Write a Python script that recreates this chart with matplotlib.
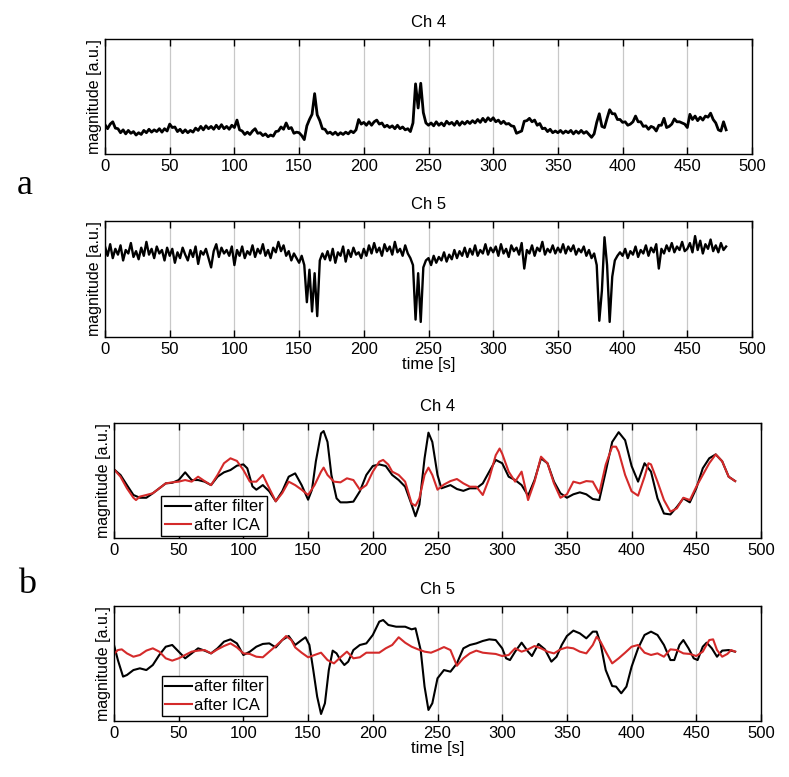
"""
Raw channels (a) and filtered vs ICA-cleaned channels (b), Ch 4 and Ch 5
"""

import numpy as np
import matplotlib
matplotlib.use('Agg')
import matplotlib.pyplot as plt

plt.rcParams['font.family'] = ['Liberation Sans', 'DejaVu Sans']

#%% DATA

# (a) raw recordings, one sample every 2 s (0..480 s)
t_raw = np.arange(0, 481, 2)

ch4_raw = [
    25.5, 22.0, 26.0, 28.0, 22.5, 22.0, 18.5, 21.0, 17.5, 20.5, 18.0, 19.5, 16.5, 18.5, 17.0, 20.5, 18.5, 21.5, 19.0, 21.0, 19.5, 22.0, 19.0, 22.0, 20.0,
    26.0, 23.0, 23.5, 19.5, 21.5, 18.5, 21.0, 18.5, 20.5, 19.0, 22.5, 20.5, 24.0, 21.0, 24.5, 22.0, 24.0, 21.5, 25.0, 22.0, 25.5, 22.0, 24.0, 21.5, 25.0,
    23.0, 29.5, 21.0, 20.0, 17.0, 19.0, 17.0, 20.0, 22.0, 18.0, 18.5, 16.0, 17.5, 15.0, 16.5, 15.5, 19.5, 20.0, 23.5, 21.5, 27.0, 22.0, 23.0, 18.0, 19.0,
    18.5, 16.0, 12.5, 24.5, 30.0, 34.5, 52.5, 34.0, 29.0, 22.0, 21.5, 18.0, 19.0, 17.0, 19.0, 16.5, 18.5, 17.0, 19.0, 17.5, 20.0, 18.5, 21.0, 30.0, 26.0,
    27.5, 25.0, 28.0, 25.0, 28.0, 29.5, 26.0, 27.0, 23.5, 25.0, 23.0, 24.5, 22.0, 25.0, 22.0, 23.5, 21.0, 22.0, 19.5, 27.0, 61.0, 40.0, 61.5, 36.0, 27.0,
    25.0, 27.0, 24.5, 28.0, 25.0, 27.0, 24.5, 28.5, 26.0, 27.5, 25.0, 28.5, 25.0, 28.0, 26.0, 28.5, 26.5, 29.0, 27.0, 30.0, 27.5, 31.0, 28.0, 31.5, 29.0,
    31.5, 28.0, 29.5, 26.5, 28.5, 26.0, 26.5, 24.5, 24.0, 18.0, 19.0, 20.0, 28.5, 29.0, 31.0, 28.0, 29.5, 25.0, 26.5, 22.0, 22.5, 19.5, 21.5, 18.5, 20.0,
    18.5, 20.5, 18.0, 20.0, 18.5, 20.5, 17.5, 20.0, 18.0, 20.5, 18.0, 19.5, 17.0, 14.5, 17.5, 27.5, 35.0, 24.0, 23.0, 31.0, 38.5, 35.0, 35.0, 30.0, 30.0,
    27.5, 28.0, 25.0, 26.0, 28.0, 33.0, 28.0, 28.0, 24.0, 24.5, 21.5, 24.0, 23.0, 20.0, 25.0, 25.0, 31.0, 23.0, 24.0, 26.0, 30.5, 28.0, 28.0, 27.0, 26.0,
    23.0, 34.5, 30.0, 33.0, 29.0, 32.0, 29.5, 33.0, 32.0, 35.5, 30.0, 27.0, 21.0, 20.0, 28.0, 21.0,
]

ch5_raw = [
    78, 70, 80, 68, 76, 71, 79, 66, 75, 72, 81, 69, 74, 67, 77, 70, 82, 71, 76, 68, 78, 72, 75, 66, 77,
    70, 76, 64, 73, 68, 77, 71, 66, 75, 69, 78, 63, 74, 71, 76, 68, 60, 74, 80, 69, 77, 72, 75, 70, 78,
    62, 75, 70, 78, 68, 74, 71, 79, 69, 76, 72, 80, 70, 75, 68, 77, 73, 82, 74, 79, 70, 74, 66, 72, 68,
    64, 70, 62, 30, 58, 22, 55, 18, 66, 72, 67, 74, 66, 76, 64, 73, 70, 78, 65, 75, 69, 77, 71, 73, 68,
    76, 70, 79, 72, 81, 73, 77, 70, 80, 74, 78, 71, 82, 73, 76, 70, 79, 72, 68, 62, 15, 55, 13, 60, 66,
    68, 62, 70, 64, 69, 66, 73, 65, 71, 67, 75, 68, 74, 70, 77, 69, 76, 71, 79, 70, 75, 72, 80, 71, 77,
    73, 78, 70, 80, 72, 76, 69, 79, 74, 77, 71, 81, 59, 75, 72, 79, 70, 77, 74, 82, 71, 76, 73, 79, 72,
    77, 73, 80, 72, 78, 74, 79, 71, 76, 73, 78, 70, 75, 68, 72, 62, 14, 40, 86, 62, 13, 52, 66, 70, 73,
    70, 76, 68, 74, 71, 78, 69, 75, 72, 79, 70, 77, 73, 80, 59, 76, 72, 79, 74, 81, 73, 78, 75, 82, 74,
    76, 81, 73, 87, 75, 83, 72, 80, 76, 84, 74, 79, 73, 81, 75, 78,
]

# (b) Ch 4, after filter / after ICA
ch4_filt_t = [0, 5, 10, 15, 20, 25, 30, 35, 40, 45, 50, 55, 60, 65, 70, 75, 80, 85, 90, 95, 100,
              103, 107, 110, 115, 120, 125, 130, 135, 140, 145, 150, 153, 156, 160, 162, 165, 168, 172, 175,
              180, 185, 190, 195, 200, 205, 210, 215, 220, 225, 230, 233, 236, 240, 243, 246, 250, 253,
              260, 265, 270, 275, 280, 285, 290, 295, 300, 305, 310, 315, 320, 325, 330, 335, 340, 345,
              350, 355, 360, 365, 370, 375, 380, 385, 390, 395, 400, 405, 410, 415, 420, 425, 430, 435,
              440, 445, 450, 455, 460, 465, 470, 475, 480]
ch4_filt = [59.7, 54.8, 46, 37.4, 35, 35, 38.9, 43.2, 47.5, 48, 50.4, 57.1, 50.4, 50.4, 49, 46, 53.3, 57.1, 59.1, 62.9, 64,
            60.6, 44.9, 42, 46, 40.6, 31.9, 40.6, 53.3, 56.2, 46, 33.3, 42, 66.7, 91, 93, 83.5, 54.8, 34.5, 31,
            31, 31.6, 40.6, 54.8, 62.6, 64, 62.6, 54.8, 50.4, 44.6, 29, 18.9, 29, 69.3, 91.6, 83.5, 54.8, 43.2,
            46, 42.6, 41, 43.2, 43.2, 47.5, 57.7, 67.9, 65, 53.3, 50.4, 46, 36.8, 50.4, 69.3, 65, 49, 38.9,
            35, 38, 39.7, 38, 33.9, 33, 57.7, 83.5, 92, 85, 62.6, 49, 65, 57.7, 34.5, 21.3, 20.5, 27,
            34.5, 31, 43.2, 60.6, 69.3, 72.7, 66.7, 53.3, 49.5]

ch4_ica_t = [0, 5, 10, 15, 17, 20, 25, 30, 35, 40, 45, 50, 55, 60, 65, 70, 75, 80, 85, 90, 95, 100,
             105, 110, 115, 120, 125, 130, 135, 140, 145, 150, 155, 160, 162, 165, 170, 175, 180, 185, 190,
             195, 200, 205, 208, 212, 215, 220, 225, 230, 233, 236, 240, 243, 246, 250, 255, 260, 265, 270,
             275, 280, 285, 290, 295, 298, 300, 305, 310, 315, 320, 325, 330, 335, 340, 345, 350, 355, 360,
             365, 370, 375, 380, 385, 388, 390, 395, 400, 405, 410, 413, 415, 420, 425, 430, 435, 440, 445,
             450, 455, 460, 465, 470, 475, 480]
ch4_ica = [59.7, 53.3, 43.2, 35, 33, 36, 37.4, 38.9, 43.2, 47.5, 48.4, 49, 50.4, 49, 53.3, 49.5, 46, 54.8, 65, 69.3, 67, 59.1,
           49, 49, 54.8, 43.2, 31.9, 39, 49, 46, 42, 37.4, 46, 57.7, 61.2, 54.8, 49, 48.4, 51.9, 50.4, 42,
           46, 57.7, 66.4, 67.9, 63.8, 57.7, 54.8, 49, 30, 28, 34.5, 54.8, 61.2, 54.8, 42, 46.5, 49.5, 51.3, 47.5,
           44.6, 44.6, 37.4, 51.9, 72, 77.8, 73.3, 57.7, 49, 57.7, 33, 49, 70.7, 65, 47.5, 35, 38, 49, 47.5,
           49.5, 49, 38.9, 63.8, 79.4, 79.4, 75, 54.8, 40.6, 36.8, 53.3, 65, 64, 49, 33, 22.9, 25.8, 35, 33,
           44.6, 54.8, 65, 72.7, 66.7, 53.3, 49.5]

# (b) Ch 5, after filter / after ICA
ch5_filt_t = [0, 3, 7, 10, 15, 20, 25, 30, 35, 40, 45, 50, 55, 60, 65, 70, 75, 80, 85, 90, 95, 100,
              105, 110, 115, 120, 125, 130, 135, 140, 145, 148, 151, 154, 157, 160, 163, 166, 169, 172,
              175, 178, 181, 185, 190, 195, 200, 205, 208, 212, 218, 225, 230, 233, 237, 240, 243, 246,
              250, 255, 260, 265, 270, 275, 280, 285, 290, 295, 300, 303, 306, 310, 315, 320, 323, 328,
              333, 338, 342, 346, 350, 355, 360, 365, 370, 373, 376, 380, 385, 388, 392, 396, 400, 405,
              410, 415, 420, 425, 430, 433, 437, 440, 444, 448, 451, 455, 458, 462, 466, 470, 475, 480]
ch5_filt = [66.1, 53, 38.6, 40, 44.3, 45.8, 44.3, 48.7, 57.4, 64.6, 66.1, 60.3, 54.5, 58.8, 63.2, 61.2, 58.8, 63.2, 69, 71, 67.5, 57.4,
            60.3, 64.6, 67, 67.5, 64, 70.4, 73.9, 66.1, 70.4, 72.8, 66.1, 44.3, 21.2, 6.1, 15.4, 44.3, 61.2, 58.8,
            53, 48.7, 51.6, 61.7, 66.1, 67.5, 74.8, 86.4, 87.8, 83.5, 82, 82, 79.7, 80.6, 61.7, 29.9, 9.6, 15.4,
            37.1, 44.3, 42.9, 50.1, 63.2, 66.1, 67.5, 69.6, 71, 70.4, 63.2, 54.5, 53, 60.3, 68.1, 60.3, 56.5, 67,
            62.3, 51.6, 55.9, 66.1, 73.9, 78.6, 76.2, 71.9, 77.7, 77.7, 67.5, 44.3, 30.4, 29.9, 24.1, 29.9, 47.2, 63.2,
            74.8, 77.7, 74.8, 66.1, 53, 53, 66.1, 70.4, 63.2, 54.5, 53, 64.6, 68.1, 63.2, 55.9, 61.2, 61.7, 60.3]

ch5_ica_t = [0, 3, 6, 10, 15, 20, 25, 30, 35, 40, 45, 50, 55, 60, 65, 70, 75, 80, 85, 90, 95, 100,
             105, 110, 115, 120, 125, 130, 133, 137, 140, 145, 150, 155, 160, 165, 170, 175, 180, 185,
             190, 195, 200, 205, 210, 215, 220, 225, 230, 235, 240, 245, 250, 255, 260, 265, 270, 275,
             280, 285, 290, 295, 300, 305, 310, 315, 320, 325, 330, 335, 340, 345, 350, 355, 360, 365,
             370, 373, 376, 380, 385, 390, 395, 400, 405, 410, 415, 420, 425, 430, 435, 440, 445, 450,
             455, 460, 463, 466, 470, 474, 477, 480]
ch5_ica = [58.3, 61.7, 62.3, 58.8, 55.9, 57.4, 61.2, 63.2, 60.3, 54.5, 52.5, 54.5, 57.4, 60.3, 61.2, 61.7, 58.8, 62.3, 65.2, 67.5, 64, 58.8,
           58.3, 55.9, 55.4, 60.3, 65.2, 70.4, 73.9, 70.4, 64, 59.4, 55.4, 57.4, 59.4, 53, 50.1, 55.4, 60.3, 54.5,
           55.4, 59.4, 59.4, 59.4, 63.2, 66.1, 72.8, 68.1, 64.6, 62.3, 60.3, 59.4, 61.7, 64.3, 61.7, 48, 54.5, 58.8,
           61.2, 59.4, 58.8, 58.3, 56.5, 57.4, 63.2, 60.3, 62.3, 65.2, 63.2, 60.3, 58.8, 62.3, 64, 63.2, 60.3, 58.8,
           66.1, 73.3, 69, 60.3, 50.1, 54.5, 59.4, 64.6, 66.1, 59.4, 57.4, 58.8, 55.9, 62.3, 61.7, 58.8, 58.3, 56.5,
           60.3, 70.4, 71, 61.7, 55.9, 58.3, 61.7, 60.3]

xticks = np.arange(0, 501, 50)
red = '#d42a2a'

#%% FIGURE

fig = plt.figure(figsize=(7.89, 7.77), dpi=100)

def style_axes(ax, title):
    ax.set_xlim(0, 500)
    ax.set_ylim(0, 100)
    ax.set_xticks(xticks)
    ax.set_yticks([])
    ax.grid(axis='x', color='#c8c8c8', linewidth=0.9)
    ax.set_axisbelow(True)
    ax.tick_params(axis='x', direction='in', top=True, length=5, width=1,
                   labelsize=12, pad=3.5, color='black')
    for s in ax.spines.values():
        s.set_linewidth(1.0)
    ax.set_title(title, fontsize=12, pad=8.5)
    ax.set_ylabel('magnitude [a.u.]', fontsize=11.5, labelpad=2)

# panel a
ax1 = fig.add_axes([105/789, 1-154/777, 647/789, 115/777])
ax1.plot(t_raw, ch4_raw, color='black', linewidth=2.0)
style_axes(ax1, 'Ch 4')

ax2 = fig.add_axes([105/789, 1-337/777, 647/789, 116/777])
ax2.plot(t_raw, ch5_raw, color='black', linewidth=1.7)
style_axes(ax2, 'Ch 5')
ax2.set_xlabel('time [s]', fontsize=12, labelpad=0)

# panel b
ax3 = fig.add_axes([114/789, 1-538/777, 647/789, 115/777])
ax3.plot(ch4_filt_t, ch4_filt, color='black', linewidth=1.5, label='after filter')
ax3.plot(ch4_ica_t, ch4_ica, color=red, linewidth=1.5, label='after ICA')
style_axes(ax3, 'Ch 4')

ax4 = fig.add_axes([114/789, 1-721/777, 647/789, 115/777])
ax4.plot(ch5_filt_t, ch5_filt, color='black', linewidth=1.5, label='after filter')
ax4.plot(ch5_ica_t, ch5_ica, color=red, linewidth=1.5, label='after ICA')
style_axes(ax4, 'Ch 5')
ax4.set_xlabel('time [s]', fontsize=12, labelpad=0)

for ax, anchor in [(ax3, (0.073, 0.017)), (ax4, (0.074, 0.043))]:
    leg = ax.legend(loc='lower left', bbox_to_anchor=anchor, borderaxespad=0,
                    fontsize=12, fancybox=False, framealpha=1, edgecolor='black',
                    handlelength=1.6, handletextpad=0.15, borderpad=0.2,
                    labelspacing=0.2)
    leg.get_frame().set_linewidth(1.0)

fig.text(25/789, 1-194/777, 'a', fontsize=26, family='Liberation Serif',
         ha='center', va='baseline')
fig.text(27/789, 1-593/777, 'b', fontsize=26, family='Liberation Serif',
         ha='center', va='baseline')

fig.savefig('out.png', dpi=100)
